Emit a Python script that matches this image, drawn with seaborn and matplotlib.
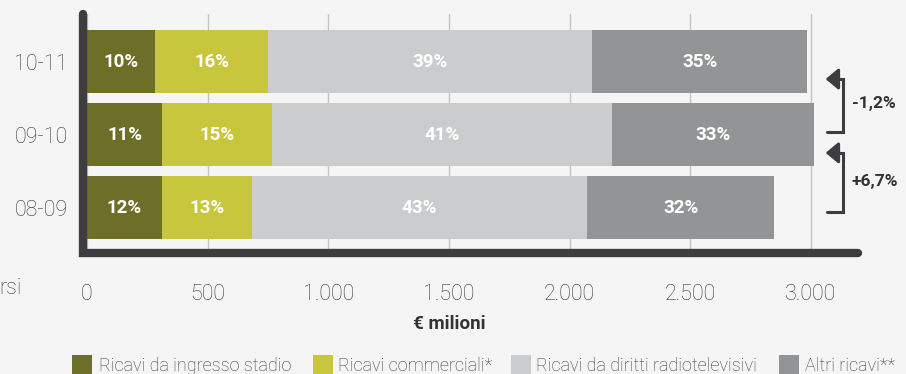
import matplotlib
matplotlib.use('Agg')
import matplotlib.pyplot as plt
import seaborn as sns
import pandas as pd
import numpy as np
from matplotlib.patches import Rectangle
from matplotlib.ticker import FuncFormatter
from matplotlib.transforms import blended_transform_factory

# ---------------- data ----------------
seasons = ['10-11', '09-10', '08-09']
ingresso = [282, 311, 311]
commerciali = [468, 456, 373]
diritti = [1343, 1409, 1388]
altri = [891, 837, 775]
pct_ingresso = ['10%', '11%', '12%']
pct_commerciali = ['16%', '15%', '13%']
pct_diritti = ['39%', '41%', '43%']
pct_altri = ['35%', '33%', '32%']
series_names = ['Ricavi da ingresso stadio', 'Ricavi commerciali*',
                'Ricavi da diritti radiotelevisivi', 'Altri ricavi**']
growth_labels = ['-1,2%', '+6,7%']
x_ticks = [0, 500, 1000, 1500, 2000, 2500, 3000]
x_label = '€ milioni'
side_text = 'rsi'

colors = ['#6d6e28', '#c7c63d', '#cbcccd', '#939495']
bg = '#f5f5f5'
dark = '#3d3d3f'
txt = '#3a3a3a'

sns.set_style('white')
plt.rcParams['font.family'] = ['Roboto', 'DejaVu Sans']

series = [ingresso, commerciali, diritti, altri]
labels = [pct_ingresso, pct_commerciali, pct_diritti, pct_altri]

df = pd.DataFrame({'Stagione': seasons})
for name, vals in zip(series_names, series):
    df[name] = vals
cum = df[series_names].cumsum(axis=1)

fig = plt.figure(figsize=(9.06, 3.74), dpi=100, facecolor=bg)
ax = fig.add_axes([83 / 906, 1 - 253 / 374, (858 - 83) / 906, (253 - 14) / 374])
ax.set_facecolor(bg)

# stacked bars: draw cumulative totals from right to left
for k in range(len(series_names) - 1, -1, -1):
    sns.barplot(x=cum[series_names[k]], y=df['Stagione'], orient='h',
                color=colors[k], width=0.86, ax=ax, saturation=1,
                linewidth=0, zorder=2)

# percent labels
for k in range(len(series_names)):
    for i in range(len(seasons)):
        start = cum[series_names[k]].iloc[i] - series[k][i]
        ax.text(start + series[k][i] / 2, i, labels[k][i], ha='center',
                va='center', color='white', fontsize=13.5, fontweight='bold',
                zorder=5)

ax.set_xlim(-16.6, 3195)
ax.set_ylim(2.62, -0.65)
ax.set_xticks(x_ticks)
ax.xaxis.set_major_formatter(FuncFormatter(lambda v, p: f'{int(v):,}'.replace(',', '.')))
ax.grid(axis='x', color='#c4c4c4', linewidth=1, zorder=0)
ax.grid(axis='y', visible=False)
ax.set_axisbelow(True)
for s in ax.spines.values():
    s.set_visible(False)
ax.tick_params(axis='both', length=0, labelsize=15.5, labelcolor=txt)
ax.tick_params(axis='x', pad=22)
ax.tick_params(axis='y', pad=11)
for t in ax.get_xticklabels() + ax.get_yticklabels():
    t.set_fontweight('light')
ax.set_xlabel('')
ax.set_ylabel('')

# thick axis lines with rounded caps
ax.plot([0, 0, 1], [1, 0, 0], transform=ax.transAxes, color=dark,
        linewidth=6, solid_capstyle='round', solid_joinstyle='miter',
        clip_on=False, zorder=6)

# x label centred on the data range
tr = blended_transform_factory(ax.transData, fig.transFigure)
ax.text(1500, 1 - 324 / 374, x_label, transform=tr, ha='center', va='center',
        fontsize=13.5, fontweight='bold', color='#333333')
fig.text(-1 / 906, 1 - 289 / 374, side_text, ha='left', va='center',
         fontsize=15.5, fontweight='light', color=txt)

# growth brackets
brackets = [(0.24, 0.96), (1.25, 2.06)]
xa, xv = 3067, 3133
for (ytop, ybot), lab in zip(brackets, growth_labels):
    ax.plot([xa, xv, xv, xa + 45], [ybot, ybot, ytop, ytop], color=dark,
            linewidth=2.2, clip_on=False, zorder=6, solid_joinstyle='miter')
    ax.annotate('', xy=(xa - 6, ytop), xytext=(xa + 50, ytop),
                arrowprops=dict(arrowstyle='-|>,head_length=0.38,head_width=0.32',
                                mutation_scale=20, color=dark, lw=2.2,
                                shrinkA=0, shrinkB=0),
                annotation_clip=False, zorder=6)
    ax.text(3170, (ytop + ybot) / 2 - 0.02, lab, ha='left', va='center',
            fontsize=12.5, fontweight='bold', color='#333333', clip_on=False)

# legend (manual, bottom)
sq_x = [72, 313, 511, 779]
tx_x = [99, 338, 536, 805]
for k in range(len(series_names)):
    fig.add_artist(Rectangle((sq_x[k] / 906, 1 - 376 / 374), 20 / 906, 21 / 374,
                             transform=fig.transFigure, facecolor=colors[k],
                             edgecolor='none'))
    fig.text(tx_x[k] / 906, 1 - 366 / 374, series_names[k], ha='left',
             va='center', fontsize=13, fontweight='light', color=txt)

fig.savefig('out.png', dpi=100, facecolor=bg)
